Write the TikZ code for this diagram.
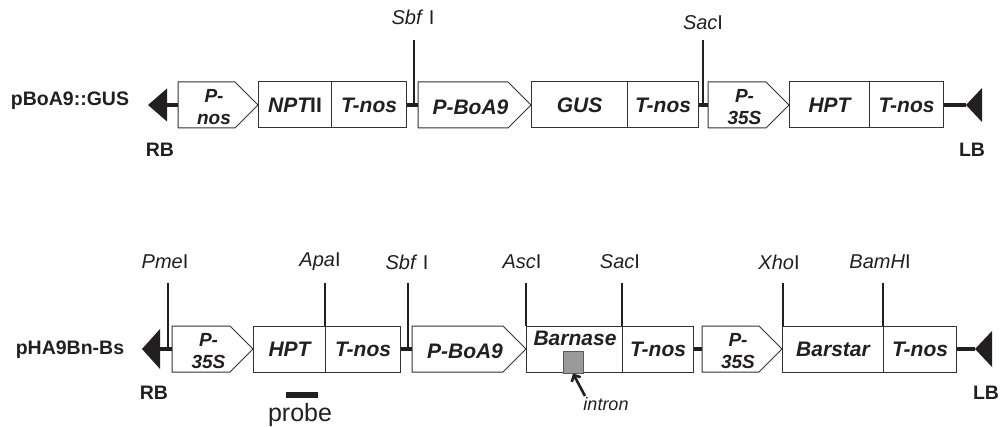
\documentclass[tikz,border=0pt]{standalone}
\usepackage{fontspec}
\setmainfont{Liberation Sans}
\usetikzlibrary{calc,arrows.meta}

\definecolor{ink}{HTML}{231F20}
\definecolor{edge}{HTML}{333333}
\definecolor{introngray}{HTML}{9A9A9A}
\definecolor{introndark}{HTML}{5A5A5A}

\tikzset{
  gbox/.style={draw=edge, fill=white, line width=1pt, minimum height=46pt,
    inner sep=0pt, text=ink, font=\fontsize{21}{24}\selectfont\bfseries\itshape},
  gtext/.style={inner sep=0pt, text=ink, font=\fontsize{21}{24}\selectfont\bfseries\itshape},
  promshape/.style={draw=edge, fill=white, line width=1pt, line join=miter},
  onel/.style={inner sep=0pt, text=ink, font=\fontsize{21}{24}\selectfont\bfseries\itshape},
  twol/.style={inner sep=0pt, text=ink, align=center, font=\fontsize{19}{22}\selectfont\bfseries\itshape},
  backbone/.style={draw=ink, line width=4pt},
  site/.style={draw=ink, line width=1.6pt},
  enz/.style={inner sep=0pt, text=ink, font=\fontsize{20}{24}\selectfont},
  lbl/.style={inner sep=0pt, text=ink, font=\fontsize{19.5}{22}\selectfont\bfseries},
  border/.style={fill=ink, draw=none},
  ptr/.style={draw=ink, line width=2.6pt, -{Straight Barb[length=5pt,width=10pt,line width=2.6pt]}},
}

% gene box: name, left x, right x, centre y, text
\newcommand{\genebox}[5]{%
  \node[gbox, minimum width={#3-#2}, anchor=west] (#1) at (#2,#4) {#5};}
% promoter arrow: name, left x, tip x, centre y, text style, text
\newcommand{\promoter}[6]{%
  \coordinate (#1-w) at (#2,#4);
  \coordinate (#1-e) at (#3,#4);
  \draw[promshape] (#2,#4-23) -- (#3-23,#4-23) -- (#1-e) -- (#3-23,#4+23)
    -- (#2,#4+23) -- cycle;
  \node[#5] (#1) at ({(#2+#3)/2-4},#4+2) {#6};}
% border repeat (left-pointing triangle): name, tip x, base x, y, half height
\newcommand{\tdna}[5]{%
  \coordinate (#1-tip) at (#2,#4);
  \coordinate (#1-base) at (#3,#4);
  \fill[border] (#1-tip) -- (#3,#4-#5) -- (#3,#4+#5) -- cycle;}

\begin{document}
\begin{tikzpicture}[x=1pt,y=-1pt]
\useasboundingbox (0,0) rectangle (1000,427);

% ---------------- pBoA9::GUS ----------------
\node[lbl] (nameA) at (70,101) {pBoA9::GUS};
\tdna{rbA}{148}{167}{105}{16.5}
\tdna{lbA}{966}{982}{105}{17}
\node[lbl] (rbAtxt) at (160,150) {RB};
\node[lbl] (lbAtxt) at (972,150) {LB};

\promoter{pnosA}{178}{258}{105}{twol}{P-\\nos}
\genebox{nptA}{258}{331}{105}{NPT{\upshape II}}
\genebox{tnosA}{331}{406}{105}{T-nos}
\promoter{pboaA}{418}{531}{105}{onel}{P-BoA9}
\genebox{gusA}{531}{627}{105}{GUS}
\genebox{tnosB}{627}{698}{105}{T-nos}
\promoter{p35A}{708}{789}{105}{twol}{P-\\35S}
\genebox{hptA}{789}{869}{105}{HPT}
\genebox{tnosC}{869}{943}{105}{T-nos}

\draw[backbone] (rbA-base) -- (pnosA-w);
\draw[backbone] (tnosA.east) -- (pboaA-w);
\draw[backbone] (tnosB.east) -- (p35A-w);
\draw[backbone] (tnosC.east) -- (lbA-tip);

\coordinate (sbfA) at (414,40);
\draw[site] (sbfA) -- (sbfA |- tnosA.east);
\node[enz] (sbfAtxt) at (413,17) {\textit{Sbf} I};
\coordinate (sacA) at (703,40);
\draw[site] (sacA) -- (sacA |- tnosB.east);
\node[enz] (sacAtxt) at (703,23) {\textit{Sac}I};

% ---------------- pHA9Bn-Bs ----------------
\node[lbl] (nameB) at (70,350) {pHA9Bn-Bs};
\tdna{rbB}{142}{160}{349}{20}
\tdna{lbB}{975}{992}{349}{18}
\node[lbl] (rbBtxt) at (154,393) {RB};
\node[lbl] (lbBtxt) at (986,393) {LB};

\promoter{p35B}{172}{253}{349}{twol}{P-\\35S}
\genebox{hptB}{253}{325}{349}{HPT}
\genebox{tnosD}{325}{400}{349}{T-nos}
\promoter{pboaB}{412}{526}{349}{onel}{P-BoA9}
\genebox{bnB}{526}{622}{349}{}
\node[gtext] (bnBtxt) at (575,338) {Barnase};
\genebox{tnosE}{622}{693}{349}{T-nos}
\promoter{p35C}{702}{782}{349}{twol}{P-\\35S}
\genebox{bsB}{782}{883}{349}{Barstar}
\genebox{tnosF}{883}{956}{349}{T-nos}

\draw[backbone] (rbB-base) -- (p35B-w);
\draw[backbone] (tnosD.east) -- (pboaB-w);
\draw[backbone] (tnosE.east) -- (p35C-w);
\draw[backbone] (tnosF.east) -- (lbB-tip);

% restriction sites
\coordinate (pmeB) at (168,283);
\draw[site] (pmeB) -- (pmeB |- p35B-w);
\node[enz] (pmeBtxt) at (165,262) {\textit{Pme}I};
\coordinate (apaB) at (325,283);
\draw[site] (apaB) -- (apaB |- hptB.north);
\node[enz] (apaBtxt) at (320,262) {\textit{Apa}I};
\coordinate (sbfB) at (408,283);
\draw[site] (sbfB) -- (sbfB |- tnosD.east);
\node[enz] (sbfBtxt) at (407,262) {\textit{Sbf} I};
\coordinate (ascB) at (526,283);
\draw[site] (ascB) -- (ascB |- bnB.north);
\node[enz] (ascBtxt) at (522,262) {\textit{Asc}I};
\coordinate (sacB) at (622,283);
\draw[site] (sacB) -- (sacB |- bnB.north);
\node[enz] (sacBtxt) at (620,262) {\textit{Sac}I};
\coordinate (xhoB) at (783,283);
\draw[site] (xhoB) -- (xhoB |- bsB.north);
\node[enz] (xhoBtxt) at (779,262) {\textit{Xho}I};
\coordinate (bamB) at (883,283);
\draw[site] (bamB) -- (bamB |- bsB.north);
\node[enz] (bamBtxt) at (880,262) {\textit{BamH}I};

% intron inside barnase
\node[draw=introndark, fill=introngray, line width=1pt, minimum width=20pt,
      minimum height=22pt, inner sep=0pt] (intron) at (573,362) {};
\coordinate (intronTail) at (585,396);
\draw[ptr] (intronTail) -- (intron.south);
\node[inner sep=0pt, text=ink, font=\fontsize{18}{20}\selectfont\itshape]
  (introntxt) at (606,404) {intron};

% probe
\node[fill=ink, minimum width=32pt, minimum height=6pt, inner sep=0pt] (probebar) at (302,395) {};
\node[inner sep=0pt, text=ink, font=\fontsize{25}{28}\selectfont] (probetxt) at (300,415) {probe};
\end{tikzpicture}
\end{document}
